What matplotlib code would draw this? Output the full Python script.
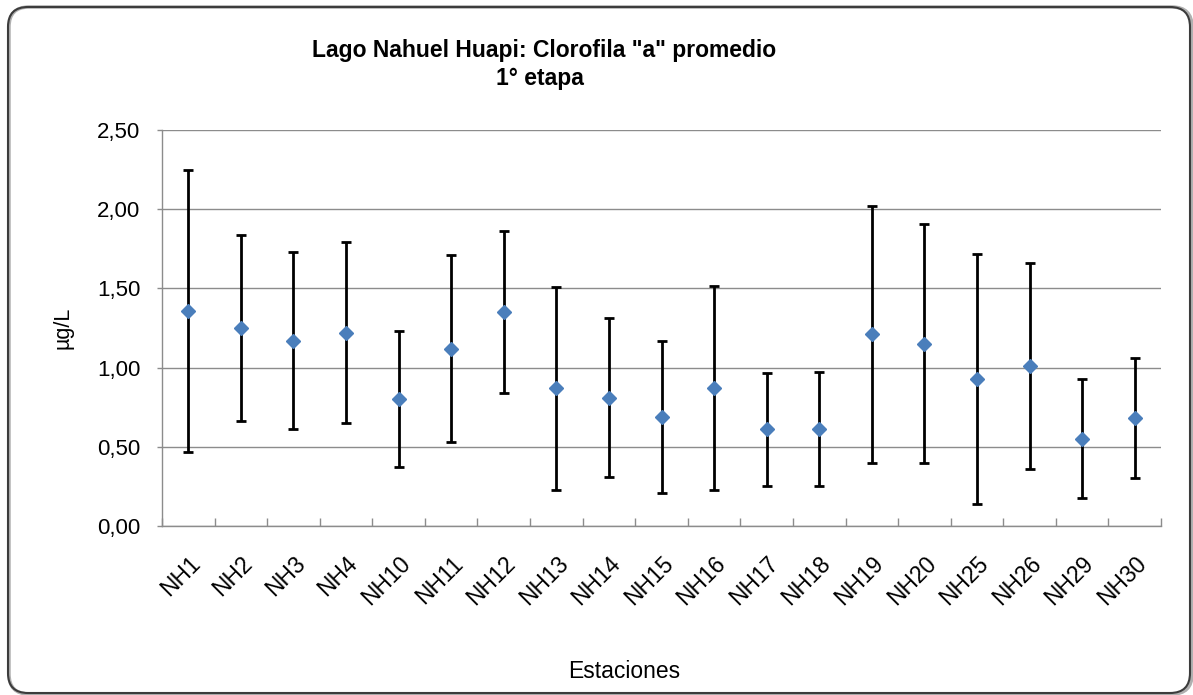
import matplotlib
matplotlib.use("Agg")
import matplotlib.pyplot as plt
from matplotlib.patches import FancyBboxPatch
from matplotlib.transforms import IdentityTransform, ScaledTranslation
from matplotlib.ticker import FixedLocator, FuncFormatter

plt.rcParams['font.family'] = ['Liberation Sans', 'DejaVu Sans']

stations = ["NH1", "NH2", "NH3", "NH4", "NH10", "NH11", "NH12", "NH13", "NH14", "NH15",
            "NH16", "NH17", "NH18", "NH19", "NH20", "NH25", "NH26", "NH29", "NH30"]
mean_chl = [1.36, 1.25, 1.17, 1.22, 0.80, 1.12, 1.35, 0.87, 0.81, 0.69,
            0.87, 0.61, 0.61, 1.21, 1.15, 0.93, 1.01, 0.55, 0.68]
sd_chl = [0.89, 0.59, 0.56, 0.57, 0.43, 0.59, 0.51, 0.64, 0.50, 0.48,
          0.645, 0.355, 0.36, 0.81, 0.755, 0.79, 0.65, 0.375, 0.38]
y_ticks = [0.0, 0.5, 1.0, 1.5, 2.0, 2.5]

W, H = 1193, 695
fig = plt.figure(figsize=(W / 100, H / 100), dpi=100)

# chart area border (pixel coordinates, origin bottom-left)
shadow = FancyBboxPatch((9, 1), 1183, 687, boxstyle="round,pad=0,rounding_size=20",
                        transform=IdentityTransform(), facecolor="none",
                        edgecolor="#b0b0b0", linewidth=2.5, zorder=-2)
border = FancyBboxPatch((8, 2), 1182, 686, boxstyle="round,pad=0,rounding_size=20",
                        transform=IdentityTransform(), facecolor="none",
                        edgecolor="#3c3c3c", linewidth=1.5, zorder=-1)
fig.patches.append(shadow)
fig.patches.append(border)

ax = fig.add_axes([162 / W, 1 - 526 / H, (1161 - 162) / W, (526 - 130) / H])
ax.set_facecolor("none")
ax.set_zorder(2)

x = list(range(len(stations)))
ax.errorbar(x, mean_chl, yerr=sd_chl, fmt='none', ecolor='black', elinewidth=2.0,
            capsize=3.6, capthick=2.0, zorder=3)
ax.plot(x, mean_chl, linestyle='none', marker='D', markersize=7, color='#4A7EBB',
        markeredgecolor='#4A7EBB', zorder=4)

ax.set_xlim(-0.5, len(stations) - 0.5)
ax.set_ylim(0, 2.5)
ax.set_yticks(y_ticks)
ax.yaxis.set_major_formatter(FuncFormatter(lambda v, p: f"{v:.2f}".replace('.', ',')))
ax.grid(axis='y', color='#8c8c8c', linewidth=1.0)
ax.set_axisbelow(True)

ax.set_xticks(x)
ax.set_xticklabels(stations, rotation=45, ha='right', va='top', rotation_mode='anchor')
offset = ScaledTranslation(-3 / 100, 0, fig.dpi_scale_trans)
for lbl in ax.get_xticklabels():
    lbl.set_transform(lbl.get_transform() + offset)
ax.xaxis.set_minor_locator(FixedLocator([i - 0.5 for i in range(len(stations) + 1)]))
ax.tick_params(axis='x', which='major', length=0, pad=19, labelsize=16.5)
ax.tick_params(axis='x', which='minor', direction='in', length=6, color='#8c8c8c', width=1)
ax.tick_params(axis='y', length=3.6, color='#8c8c8c', width=1, pad=12, labelsize=16)

for s in ['top', 'right']:
    ax.spines[s].set_visible(False)
for s in ['left', 'bottom']:
    ax.spines[s].set_color('#8c8c8c')
    ax.spines[s].set_linewidth(1.0)

fig.text(544 / W, 1 - 50 / H, 'Lago Nahuel Huapi: Clorofila "a" promedio',
         ha='center', va='center', fontsize=16.5, fontweight='bold')
fig.text(540 / W, 1 - 79 / H, '1° etapa',
         ha='center', va='center', fontsize=16.5, fontweight='bold')
fig.text(63 / W, 1 - 328 / H, 'µg/L', rotation=90, ha='center', va='center',
         fontsize=15.5)
fig.text(624 / W, 1 - 672 / H, 'Estaciones', ha='center', va='center', fontsize=16.5)

fig.savefig("out.png", dpi=100)
